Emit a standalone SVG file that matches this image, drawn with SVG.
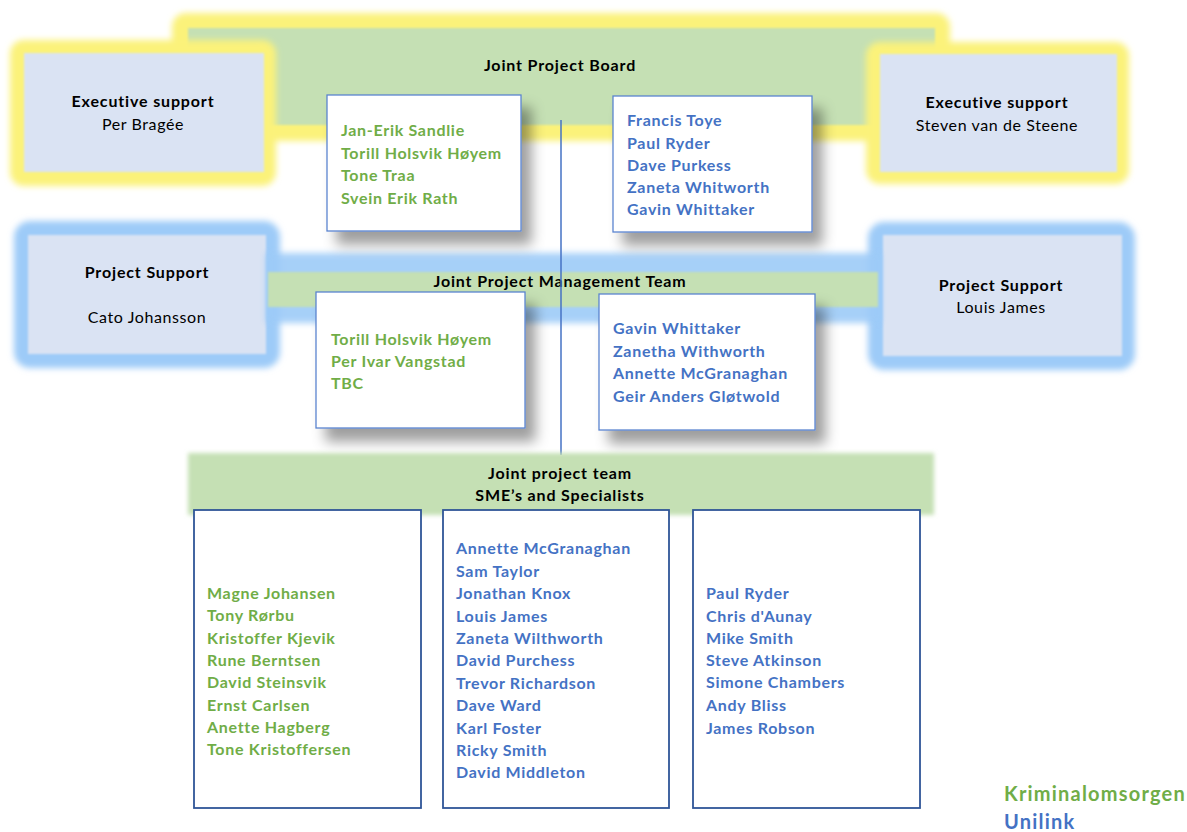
<svg xmlns="http://www.w3.org/2000/svg" width="1187" height="832" viewBox="0 0 1187 832">
<defs>
<filter id="glow" x="-10%" y="-10%" width="120%" height="120%"><feGaussianBlur stdDeviation="3"/></filter>
<filter id="soft" x="-10%" y="-10%" width="120%" height="120%"><feGaussianBlur stdDeviation="1.3"/></filter>
<filter id="shadow" x="-20%" y="-20%" width="150%" height="150%"><feDropShadow dx="10" dy="13" stdDeviation="6.5" flood-color="#000" flood-opacity="0.38"/></filter>
<filter id="bandblur" x="-5%" y="-30%" width="110%" height="160%"><feGaussianBlur stdDeviation="2"/></filter>
</defs>
<style>
text{font-family:Lato,"Liberation Sans",sans-serif;font-size:16px;letter-spacing:0.7px}
.h{font-weight:bold;fill:#000;text-anchor:middle;letter-spacing:0.85px}
.n{fill:#000;text-anchor:middle;letter-spacing:0.6px}
.g{font-weight:bold;fill:#70AD47}
.u{font-weight:bold;fill:#4472C4}
.lg{font-size:20px;letter-spacing:1.2px}
.yel{fill:#FBF27A}
.blu{fill:#9DCBF8}
.grn{fill:#C5E0B4}
.inner{fill:#DAE3F3}
.card{fill:#fff;stroke:#5B84CF;stroke-width:1.3}
.col{fill:#fff;stroke:#2F5597;stroke-width:1.8}
</style>

<g id="joint-project-board">
<rect class="yel" x="172" y="13" width="778" height="128" rx="14" filter="url(#glow)"/>
<rect class="grn" x="188" y="28" width="747" height="97" filter="url(#soft)"/>
<text class="h" x="560" y="71">Joint Project Board</text>
</g>

<g id="exec-support-left">
<rect class="yel" x="10" y="40" width="266" height="146" rx="14" filter="url(#glow)"/>
<rect class="inner" x="24" y="53" width="240" height="119" filter="url(#soft)"/>
<text class="h" x="143" y="107">Executive support</text>
<text class="n" x="143" y="130">Per Bragée</text>
</g>

<g id="exec-support-right">
<rect class="yel" x="866" y="42" width="263" height="142" rx="14" filter="url(#glow)"/>
<rect class="inner" x="880" y="54" width="237" height="118" filter="url(#soft)"/>
<text class="h" x="997" y="108">Executive support</text>
<text class="n" x="997" y="131">Steven van de Steene</text>
</g>

<g id="project-support-left">
<rect class="blu" x="14" y="221" width="266" height="147" rx="16" filter="url(#glow)"/>
<rect class="inner" x="28" y="235" width="238" height="119" filter="url(#soft)"/>
<text class="h" x="147" y="278">Project Support</text>
<text class="n" x="147" y="323">Cato Johansson</text>
</g>

<g id="project-support-right">
<rect class="blu" x="868" y="222" width="267" height="148" rx="16" filter="url(#glow)"/>
<rect class="inner" x="883" y="235" width="239" height="121" filter="url(#soft)"/>
<text class="h" x="1001" y="291">Project Support</text>
<text class="n" x="1001" y="313">Louis James</text>
</g>

<g id="joint-project-management-team">
<rect class="blu" x="266" y="253" width="614" height="70" filter="url(#glow)" opacity="0.9"/>
<rect class="grn" x="268" y="272" width="610" height="35" filter="url(#soft)"/>
<text class="h" x="560" y="287">Joint Project Management Team</text>
</g>

<g id="connectors">
<line x1="561" y1="120" x2="561" y2="455" stroke="#4472C4" stroke-width="1.5"/>
</g>

<g id="board-members-kriminalomsorgen">
<rect class="card" x="327" y="95" width="194" height="136" filter="url(#shadow)"/>
<text class="g" x="341" y="136">Jan-Erik Sandlie</text>
<text class="g" x="341" y="159">Torill Holsvik Høyem</text>
<text class="g" x="341" y="181">Tone Traa</text>
<text class="g" x="341" y="204">Svein Erik Rath</text>
</g>

<g id="board-members-unilink">
<rect class="card" x="613" y="96" width="199" height="136" filter="url(#shadow)"/>
<text class="u" x="627" y="126">Francis Toye</text>
<text class="u" x="627" y="149">Paul Ryder</text>
<text class="u" x="627" y="171">Dave Purkess</text>
<text class="u" x="627" y="193">Zaneta Whitworth</text>
<text class="u" x="627" y="215">Gavin Whittaker</text>
</g>

<g id="pmt-kriminalomsorgen">
<rect class="card" x="316" y="292" width="209" height="136" filter="url(#shadow)"/>
<text class="g" x="331" y="345">Torill Holsvik Høyem</text>
<text class="g" x="331" y="367">Per Ivar Vangstad</text>
<text class="g" x="331" y="389">TBC</text>
</g>

<g id="pmt-unilink">
<rect class="card" x="599" y="294" width="216" height="136" filter="url(#shadow)"/>
<text class="u" x="613" y="334">Gavin Whittaker</text>
<text class="u" x="613" y="357">Zanetha Withworth</text>
<text class="u" x="613" y="379">Annette McGranaghan</text>
<text class="u" x="613" y="402">Geir Anders Gløtwold</text>
</g>

<g id="joint-project-team">
<rect class="grn" x="188" y="453" width="746" height="62" filter="url(#bandblur)"/>
<text class="h" x="560" y="479">Joint project team</text>
<text class="h" x="560" y="501">SME’s and Specialists</text>
</g>

<g id="team-kriminalomsorgen">
<rect class="col" x="194" y="510" width="227" height="298"/>
<text class="g" x="207" y="599">Magne Johansen</text>
<text class="g" x="207" y="621">Tony Rørbu</text>
<text class="g" x="207" y="644">Kristoffer Kjevik</text>
<text class="g" x="207" y="666">Rune Berntsen</text>
<text class="g" x="207" y="688">David Steinsvik</text>
<text class="g" x="207" y="711">Ernst Carlsen</text>
<text class="g" x="207" y="733">Anette Hagberg</text>
<text class="g" x="207" y="755">Tone Kristoffersen</text>
</g>

<g id="team-unilink-1">
<rect class="col" x="443" y="510" width="226" height="298"/>
<text class="u" x="456" y="554">Annette McGranaghan</text>
<text class="u" x="456" y="577">Sam Taylor</text>
<text class="u" x="456" y="599">Jonathan Knox</text>
<text class="u" x="456" y="622">Louis James</text>
<text class="u" x="456" y="644">Zaneta Wilthworth</text>
<text class="u" x="456" y="666">David Purchess</text>
<text class="u" x="456" y="689">Trevor Richardson</text>
<text class="u" x="456" y="711">Dave Ward</text>
<text class="u" x="456" y="734">Karl Foster</text>
<text class="u" x="456" y="756">Ricky Smith</text>
<text class="u" x="456" y="778">David Middleton</text>
</g>

<g id="team-unilink-2">
<rect class="col" x="693" y="510" width="227" height="298"/>
<text class="u" x="706" y="599">Paul Ryder</text>
<text class="u" x="706" y="622">Chris d'Aunay</text>
<text class="u" x="706" y="644">Mike Smith</text>
<text class="u" x="706" y="666">Steve Atkinson</text>
<text class="u" x="706" y="688">Simone Chambers</text>
<text class="u" x="706" y="711">Andy Bliss</text>
<text class="u" x="706" y="734">James Robson</text>
</g>

<g id="legend">
<text class="g lg" x="1004" y="801">Kriminalomsorgen</text>
<text class="u lg" x="1004" y="829">Unilink</text>
</g>
</svg>
